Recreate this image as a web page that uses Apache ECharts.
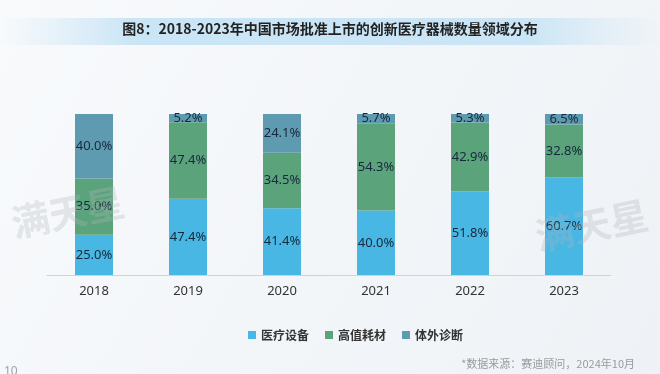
<!DOCTYPE html>
<html><head><meta charset="utf-8">
<script src="https://cdn.jsdelivr.net/npm/echarts@6/dist/echarts.min.js"></script>
<style>html,body{margin:0;padding:0;}#c{width:660px;height:374px;}</style>
</head><body><div id="c"></div>
<script>
var categories = ['2018','2019','2020','2021','2022','2023'];
var equipment = [25.0, 47.4, 41.4, 40.0, 51.8, 60.7];
var consumables = [35.0, 47.4, 34.5, 54.3, 42.9, 32.8];
var ivd = [40.0, 5.2, 24.1, 5.7, 5.3, 6.5];
var seriesNames = ['医疗设备','高值耗材','体外诊断'];
var colors = ['#48b7e4','#5ba37b','#5f9bb0'];

var chart = echarts.init(document.getElementById('c'));
var lbl = {show:true, position:'inside', color:'#15293c', fontSize:13, fontFamily:'Noto Sans',
  formatter:function(p){return p.value.toFixed(1)+'%';}};
function mk(name, data, color){
  return {name:name, type:'bar', stack:'a', data:data, barWidth:38,
    itemStyle:{color:color}, label:lbl};
}
chart.setOption({
  backgroundColor:{type:'linear',x:0,y:0,x2:1,y2:1,colorStops:[{offset:0,color:'#f8fafc'},{offset:1,color:'#eef2f6'}]},
  animation:false,
  graphic:[
    {type:'rect', shape:{x:0,y:18,width:660,height:27}, z:-1,
     style:{fill:{type:'linear',x:0,y:0,x2:1,y2:0,colorStops:[
       {offset:0,color:'rgba(210,232,245,0)'},{offset:0.2,color:'rgba(200,228,245,0.95)'},
       {offset:0.8,color:'rgba(200,228,245,0.95)'},{offset:1,color:'rgba(210,232,245,0)'}]}}},
    {type:'text', left:'center', top:22, style:{text:'图8：2018-2023年中国市场批准上市的创新医疗器械数量领域分布',
      font:'bold 14px "Noto Sans CJK SC"', fill:'#222'}},
    {type:'text', x:8, y:205, rotation:0.2, z:100, style:{text:'满天星', font:'bold 38px "Noto Sans CJK SC"', fill:'rgba(175,182,190,0.3)'}},
    {type:'text', x:532, y:218, rotation:0.2, z:100, style:{text:'满天星', font:'bold 38px "Noto Sans CJK SC"', fill:'rgba(175,182,190,0.3)'}},
    {type:'text', right:25, top:358, style:{text:'*数据来源：赛迪顾问，2024年10月', font:'11px "Noto Sans CJK SC"', fill:'#9a9a9a'}},
    {type:'text', x:4, y:366, style:{text:'10', font:'12px "Noto Sans"', fill:'#9aa4ad'}}
  ],
  legend:{data:seriesNames, left:243, top:324, itemWidth:8, itemHeight:8, itemGap:16, icon:'rect',
    textStyle:{fontSize:12, color:'#333', fontWeight:'bold', fontFamily:'Noto Sans CJK SC'}},
  grid:{left:47, right:49, top:114, bottom:99},
  xAxis:{type:'category', data:categories,
    axisLine:{lineStyle:{color:'#cfd3d7'}}, axisTick:{show:false},
    axisLabel:{color:'#333', fontSize:13, margin:10, fontFamily:'Noto Sans'}},
  yAxis:{type:'value', min:0, max:100, show:false},
  series:[mk(seriesNames[0], equipment, colors[0]), mk(seriesNames[1], consumables, colors[1]), mk(seriesNames[2], ivd, colors[2])]
});
</script></body></html>
